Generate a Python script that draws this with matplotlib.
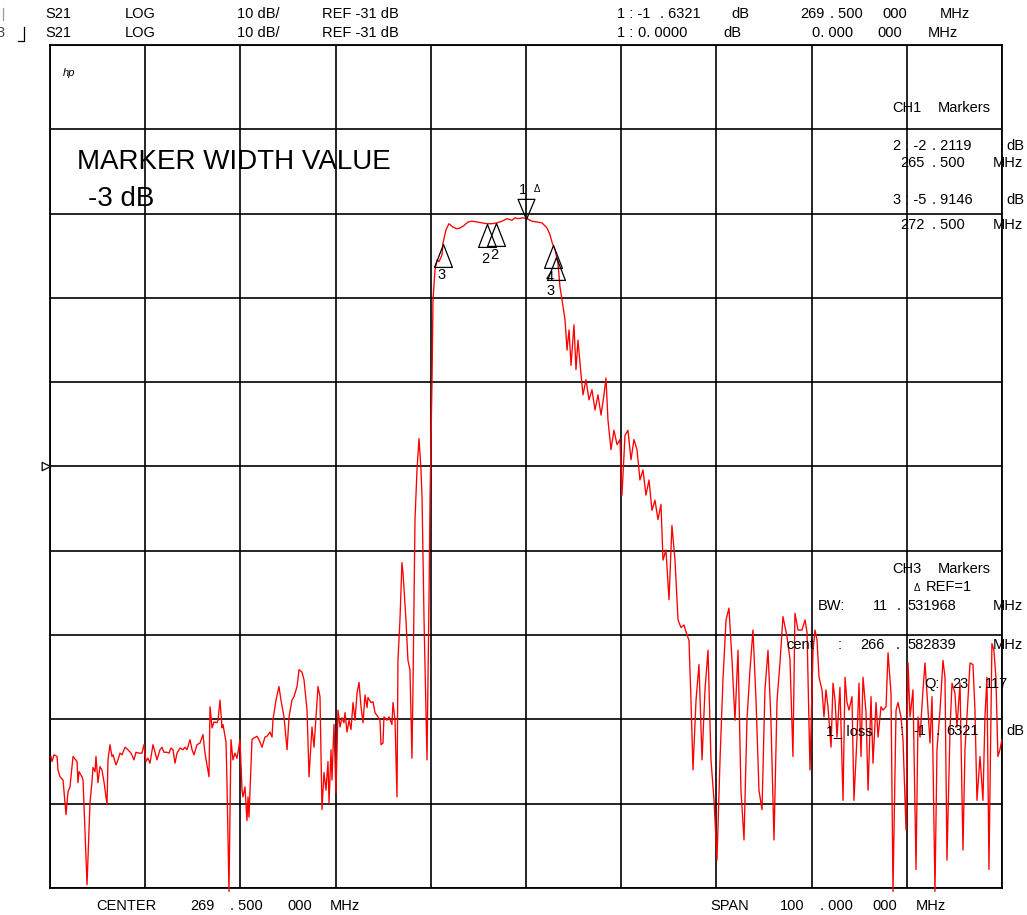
import numpy as np
import matplotlib
matplotlib.use("Agg")
import matplotlib.pyplot as plt
from matplotlib.path import Path
from matplotlib.lines import Line2D

plt.rcParams['font.family'] = ['Liberation Sans', 'DejaVu Sans']

# --- Escala del analizador ------------------------------------------------
centro_mhz = 269.5
span_mhz = 100.0
ref_db = -31.0
db_div = 10.0

freq = [
    219.6, 219.71, 219.92, 220.24, 220.34, 220.55, 220.87, 221.18, 221.39, 221.6,
    221.92, 222.34, 222.44, 222.55, 222.86, 222.97, 223.39, 223.7, 223.91, 224.02,
    224.23, 224.33, 224.54, 224.75, 224.96, 225.17, 225.49, 225.59, 225.8, 226.01,
    226.12, 226.43, 226.64, 226.85, 227.06, 227.38, 227.69, 228.01, 228.32, 228.53,
    228.85, 229.16, 229.37, 229.58, 229.79, 230.0, 230.32, 230.53, 230.74, 231.05,
    231.26, 231.47, 231.79, 232.0, 232.21, 232.42, 232.63, 232.84, 233.16, 233.47,
    233.68, 233.89, 234.21, 234.42, 234.63, 234.94, 235.26, 235.57, 235.78, 235.99,
    236.2, 236.31, 236.52, 236.73, 237.04, 237.15, 237.36, 237.57, 237.67, 237.99,
    238.09, 238.3, 238.51, 238.72, 238.93, 239.14, 239.25, 239.46, 239.67, 239.77,
    239.98, 240.19, 240.3, 240.4, 240.72, 240.93, 241.24, 241.45, 241.77, 242.08,
    242.29, 242.61, 242.82, 242.92, 243.24, 243.55, 243.76, 244.08, 244.4, 244.61,
    244.92, 245.13, 245.45, 245.66, 245.97, 246.18, 246.5, 246.71, 247.02, 247.23,
    247.44, 247.65, 247.86, 248.07, 248.28, 248.49, 248.7, 248.81, 249.02, 249.12,
    249.33, 249.54, 249.75, 249.96, 250.17, 250.38, 250.49, 250.7, 250.91, 251.12,
    251.33, 251.54, 251.75, 251.96, 252.17, 252.38, 252.59, 252.8, 252.9, 253.22,
    253.43, 253.64, 253.95, 254.16, 254.27, 254.48, 254.58, 254.9, 255.11, 255.42,
    255.53, 255.74, 255.95, 256.05, 256.26, 256.47, 256.58, 256.89, 257.1, 257.31,
    257.52, 257.63, 257.84, 258.05, 258.26, 258.47, 258.58, 258.79, 259.1, 259.31,
    259.42, 259.63, 259.73, 259.94, 260.15, 260.36, 260.68, 260.78, 261.1, 261.41,
    261.83, 262.25, 262.57, 262.88, 263.41, 263.83, 264.35, 264.88, 265.4, 265.93,
    266.45, 266.98, 267.5, 268.03, 268.34, 268.66, 269.18, 269.6, 270.13, 270.65,
    271.18, 271.7, 272.02, 272.23, 272.55, 272.86, 273.07, 273.28, 273.6, 273.81,
    274.02, 274.23, 274.54, 274.75, 274.96, 275.28, 275.49, 275.8, 276.12, 276.43,
    276.75, 277.06, 277.38, 277.69, 277.9, 278.11, 278.43, 278.74, 279.06, 279.37,
    279.58, 279.9, 280.21, 280.53, 280.84, 281.16, 281.47, 281.79, 282.1, 282.42,
    282.73, 283.05, 283.36, 283.68, 283.89, 284.2, 284.52, 284.83, 285.15, 285.47,
    285.78, 286.1, 286.41, 286.62, 286.83, 287.04, 287.36, 287.67, 287.99, 288.3,
    288.62, 288.93, 289.25, 289.56, 289.88, 290.19, 290.51, 290.82, 291.14, 291.45,
    291.77, 292.08, 292.4, 292.71, 293.03, 293.34, 293.66, 293.97, 294.29, 294.6,
    294.92, 295.23, 295.55, 295.87, 296.18, 296.49, 296.92, 297.23, 297.54, 297.75,
    298.07, 298.49, 298.81, 299.02, 299.33, 299.65, 299.86, 300.07, 300.28, 300.59,
    300.8, 301.01, 301.22, 301.54, 301.75, 301.96, 302.17, 302.48, 302.8, 303.01,
    303.22, 303.43, 303.74, 303.95, 304.27, 304.48, 304.69, 304.9, 305.22, 305.43,
    305.74, 305.95, 306.27, 306.48, 306.79, 307.0, 307.32, 307.53, 307.84, 308.05,
    308.37, 308.58, 308.89, 309.1, 309.42, 309.63, 309.84, 310.15, 310.47, 310.68,
    310.89, 311.2, 311.41, 311.62, 311.94, 312.15, 312.46, 312.67, 312.99, 313.3,
    313.51, 313.72, 314.04, 314.25, 314.56, 314.77, 315.09, 315.4, 315.61, 315.82,
    316.14, 316.45, 316.66, 316.87, 317.19, 317.5, 317.71, 317.92, 318.13, 318.44,
    318.65, 318.86, 319.07, 319.28, 319.49,
]
s21_db = [
    -65.4, -66.0, -65.2, -65.4, -67.0, -67.8, -68.2, -72.3, -69.6, -69.0,
    -65.4, -66.0, -68.5, -67.2, -67.8, -68.2, -80.6, -70.9, -68.4, -66.7,
    -67.2, -65.4, -68.5, -66.6, -67.0, -68.4, -71.1, -65.8, -64.0, -65.4,
    -65.2, -66.4, -65.8, -65.0, -65.2, -64.3, -64.6, -65.0, -65.8, -64.9,
    -65.0, -65.0, -64.0, -66.0, -65.6, -66.2, -64.0, -64.9, -65.8, -64.6,
    -64.3, -64.9, -64.9, -65.0, -64.4, -64.6, -66.2, -65.0, -64.4, -64.6,
    -64.3, -64.6, -63.4, -64.6, -65.2, -64.0, -63.8, -62.8, -65.0, -66.4,
    -67.8, -59.5, -62.0, -61.3, -61.4, -61.1, -58.7, -62.0, -61.6, -63.7,
    -68.5, -81.4, -63.4, -65.8, -65.0, -65.6, -64.9, -63.4, -69.4, -70.2,
    -69.0, -73.0, -70.2, -72.6, -63.4, -63.2, -63.0, -63.4, -64.3, -63.1,
    -63.0, -62.5, -63.1, -61.1, -58.7, -57.1, -58.7, -60.7, -64.6, -60.7,
    -58.7, -58.3, -57.1, -55.1, -55.4, -56.3, -59.9, -67.8, -61.9, -64.3,
    -60.7, -57.1, -58.3, -71.7, -67.3, -69.4, -66.0, -70.9, -64.6, -68.2,
    -61.6, -69.7, -59.9, -61.9, -60.8, -61.4, -60.2, -62.5, -61.1, -62.2,
    -59.0, -61.1, -57.9, -56.6, -59.5, -61.4, -58.1, -59.6, -58.4, -59.0,
    -58.9, -60.2, -60.7, -61.1, -64.0, -63.8, -60.7, -61.1, -60.7, -61.6,
    -59.0, -61.1, -70.2, -54.0, -49.2, -42.4, -43.6, -49.2, -54.0, -55.1,
    -65.6, -57.1, -37.3, -31.4, -27.7, -31.4, -34.7, -49.2, -65.8, -46.8,
    -34.7, -20.7, -11.2, -7.7, -6.5, -6.7, -5.9, -4.5, -2.9, -2.2,
    -2.6, -2.8, -2.7, -2.5, -2.0, -1.9, -2.0, -2.1, -2.2, -2.2,
    -2.1, -1.9, -1.6, -1.8, -1.5, -1.6, -1.5, -1.6, -1.9, -2.0,
    -2.1, -2.7, -3.5, -4.4, -5.3, -6.9, -9.7, -11.2, -13.6, -17.2,
    -14.8, -19.0, -14.2, -19.5, -16.0, -20.1, -22.5, -20.7, -23.1, -21.9,
    -24.3, -22.5, -24.9, -22.5, -20.5, -25.5, -29.0, -26.7, -28.4, -27.8,
    -34.4, -27.3, -26.7, -30.2, -27.8, -29.0, -32.6, -31.4, -34.4, -32.6,
    -36.2, -35.0, -37.3, -35.5, -42.1, -40.9, -46.8, -38.0, -42.1, -49.2,
    -50.1, -49.8, -51.0, -51.6, -58.7, -67.0, -58.7, -54.5, -65.8, -57.5,
    -52.8, -65.8, -70.6, -77.7, -65.8, -56.3, -49.2, -47.8, -54.0, -61.1,
    -52.8, -69.4, -75.3, -61.1, -55.1, -50.4, -58.7, -69.4, -71.7, -57.5,
    -52.8, -61.1, -75.3, -58.7, -54.3, -48.8, -51.2, -53.9, -65.4, -48.4,
    -50.4, -50.4, -49.2, -50.7, -67.0, -52.8, -50.4, -51.6, -56.0, -57.5,
    -60.7, -57.5, -59.5, -64.3, -56.7, -58.7, -63.1, -57.2, -70.6, -56.0,
    -59.0, -59.9, -58.3, -70.6, -63.1, -56.7, -65.4, -56.0, -60.2, -69.4,
    -58.3, -66.2, -59.0, -63.1, -59.5, -59.9, -59.5, -53.1, -57.9, -81.4,
    -59.9, -59.0, -60.7, -63.4, -74.1, -54.3, -60.7, -57.5, -78.8, -60.7,
    -63.1, -57.5, -54.3, -57.9, -63.8, -58.3, -81.4, -64.6, -59.9, -54.0,
    -56.0, -77.7, -62.2, -56.7, -57.9, -61.9, -56.7, -76.5, -64.6, -60.7,
    -54.3, -54.5, -59.9, -70.6, -65.4, -70.6, -60.7, -56.0, -78.8, -52.0,
    -52.8, -56.0, -65.4, -64.6, -63.4,
]

# --- Marcadores sobre la traza ------------------------------------------------
mk_up_freq = [260.8, 265.4, 266.4, 272.35, 272.65]
mk_up_db = [-4.6, -2.2, -2.1, -4.7, -6.1]
mk_up_lbl = ["3", "2", "2", "4", "3"]
mk_up_off = [(-2, -31), (-2, -35), (-2, -32), (-3, -32), (-5, -34)]
mk_ref_freq = 269.5
mk_ref_db = -1.63

W, H = 1027, 915
FS = 10.5
fig = plt.figure(figsize=(W / 100, H / 100), dpi=100)
ax = fig.add_axes([50 / W, 1 - 888 / H, 952 / W, 843 / H])
x0 = centro_mhz - span_mhz / 2
ax.set_xlim(x0, x0 + span_mhz)
ax.set_ylim(ref_db - 5 * db_div, ref_db + 5 * db_div)
ax.set_xticks(np.linspace(x0, x0 + span_mhz, 11))
ax.set_yticks(np.linspace(ref_db - 5 * db_div, ref_db + 5 * db_div, 11))
ax.tick_params(length=0, labelbottom=False, labelleft=False)
ax.grid(color="black", lw=1.2)
ax.set_axisbelow(True)
for sp in ax.spines.values():
    sp.set_linewidth(1.3)

ax.plot(freq, s21_db, color="#ff0000", lw=0.95, clip_on=False, zorder=3)

# triángulos con el vértice sobre la traza
tri_up = Path([(0, 0), (-0.39, -1), (0.39, -1), (0, 0)],
              [Path.MOVETO, Path.LINETO, Path.LINETO, Path.CLOSEPOLY])
tri_dn = Path([(0, 0), (-0.42, 1), (0.42, 1), (0, 0)],
              [Path.MOVETO, Path.LINETO, Path.LINETO, Path.CLOSEPOLY])
tri_ref = Path([(0, 0), (-1, 0.5), (-1, -0.5), (0, 0)],
               [Path.MOVETO, Path.LINETO, Path.LINETO, Path.CLOSEPOLY])

for f, d, lbl, off in zip(mk_up_freq, mk_up_db, mk_up_lbl, mk_up_off):
    ax.plot(f, d, marker=tri_up, ms=33, mfc="none", mec="black", mew=0.9,
            ls="none", zorder=4)
    ax.annotate(lbl, (f, d), xytext=off, textcoords="offset pixels",
                ha="center", va="center", fontsize=FS)

ax.plot(mk_ref_freq, mk_ref_db, marker=tri_dn, ms=29, mfc="none", mec="black",
        mew=0.9, ls="none", zorder=4)
ax.annotate("1", (mk_ref_freq, mk_ref_db), xytext=(-3, 29),
            textcoords="offset pixels", ha="center", va="center", fontsize=FS)
ax.annotate("Δ", (mk_ref_freq, mk_ref_db), xytext=(11, 30),
            textcoords="offset pixels", ha="center", va="center", fontsize=7)

# flecha de la línea de referencia
ax.plot(x0, ref_db, marker=tri_ref, ms=12, mfc="white", mec="black", mew=0.9,
        ls="none", clip_on=False, zorder=5)


def txt(px, py, s, size=FS, **kw):
    fig.text(px / W, 1 - py / H, s, fontsize=size, va="center", ha="left", **kw)


# cabecera
for py, lines in [(14, [("S21", 45), ("LOG", 125), ("10 dB/", 237),
                        ("REF -31 dB", 322), ("1 : -1", 617), (". 6321", 660),
                        ("dB", 731), ("269", 800), (". 500", 830),
                        ("000", 882), ("MHz", 940)]),
                  (33, [("S21", 45), ("LOG", 125), ("10 dB/", 237),
                        ("REF -31 dB", 322), ("1 :", 617), ("0. 0000", 638),
                        ("dB", 723), ("0. 000", 812), ("000", 877),
                        ("MHz", 928)])]:
    for s, px in lines:
        txt(px, py, s)
txt(-4, 33, "3", color="#444444")
fig.add_artist(Line2D([24 / W, 24 / W, 18 / W],
                      [1 - 27 / H, 1 - 41 / H, 1 - 41 / H],
                      color="black", lw=0.9))
fig.add_artist(Line2D([3 / W, 3 / W], [1 - 8 / H, 1 - 20 / H],
                      color="#999999", lw=0.9))

txt(63, 73, "hp", size=8, style="italic")
txt(77, 162, "MARKER WIDTH VALUE", size=20)
txt(88, 199, "-3 dB", size=20)

# bloque CH1
for s, px, py in [("CH1", 892, 108), ("Markers", 938, 108),
                  ("2 : -2", 893, 146), (". 2119", 932, 146), ("dB", 1006, 146),
                  ("265", 900, 163), (". 500", 932, 163), ("MHz", 993, 163),
                  ("3 : -5", 893, 200), (". 9146", 932, 200), ("dB", 1006, 200),
                  ("272", 900, 225), (". 500", 932, 225), ("MHz", 993, 225)]:
    txt(px, py, s)

# bloque CH3
for s, px, py in [("CH3", 892, 569), ("Markers", 938, 569),
                  ("REF=1", 926, 587),
                  ("BW:", 818, 606), ("11", 873, 606), (".", 897, 606),
                  ("531968", 907, 606), ("MHz", 993, 606),
                  ("cent", 786, 645), (":", 838, 645), ("266", 860, 645),
                  (".", 896, 645), ("582839", 907, 645), ("MHz", 993, 645),
                  ("Q:", 924, 684), ("23", 952, 684), (".", 978, 684),
                  ("117", 985, 684),
                  ("1_ loss", 826, 731), (":", 900, 731), ("-1", 913, 731),
                  (".", 936, 731), ("6321", 946, 731), ("dB", 1006, 731)]:
    txt(px, py, s)
txt(914, 588, "Δ", size=7)

# pie
for s, px in [("CENTER", 96), ("269", 190), (". 500", 230), ("000", 287),
              ("MHz", 330), ("SPAN", 710), ("100", 780), (". 000", 820),
              ("000", 872), ("MHz", 916)]:
    txt(px, 906, s)

fig.savefig("out.png", dpi=100)
